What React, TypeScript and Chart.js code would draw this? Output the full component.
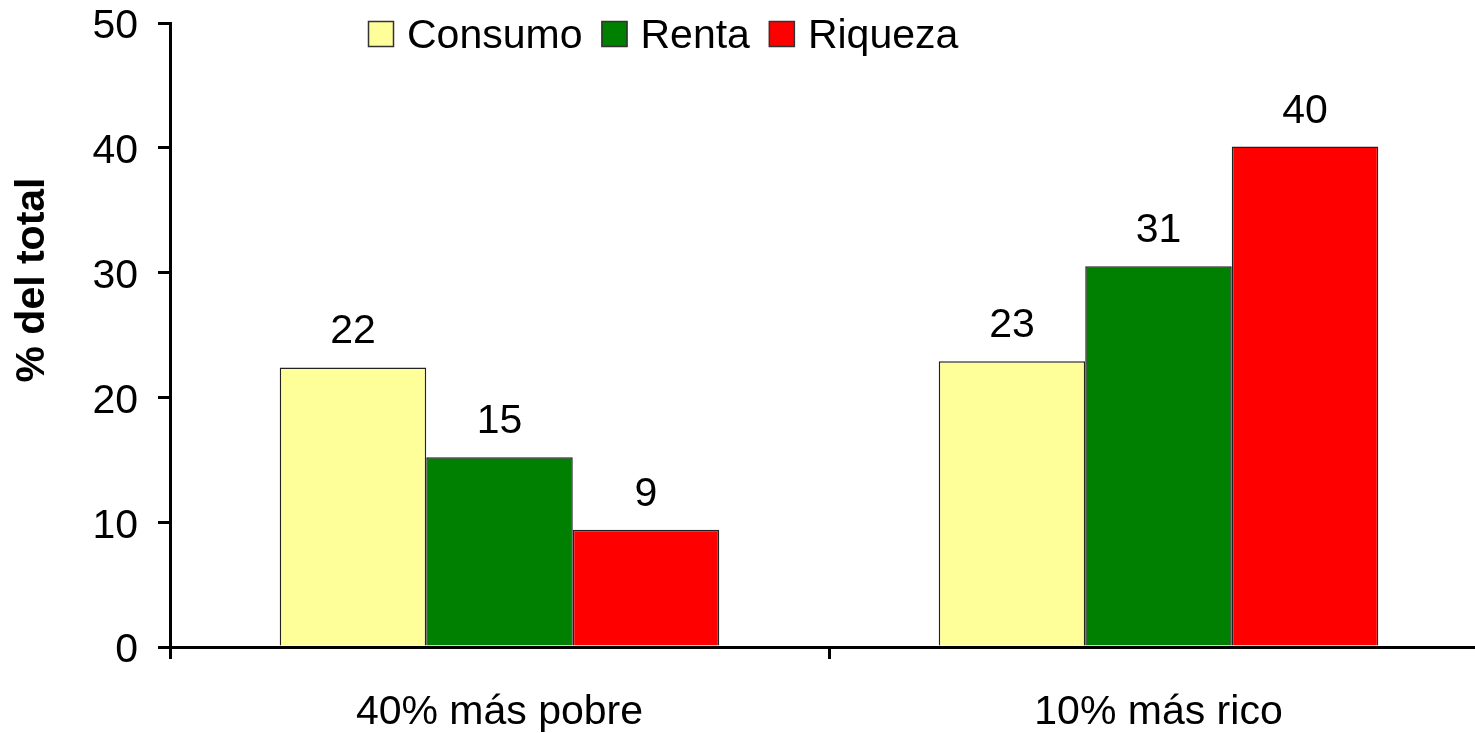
import React, { useEffect, useRef } from "react";
import { Chart, registerables } from "chart.js";

Chart.register(...registerables);

const categories = ["40% más pobre", "10% más rico"];
const seriesNames = ["Consumo", "Renta", "Riqueza"];
const consumo = [22.4, 22.9];
const renta = [15.2, 30.5];
const riqueza = [9.4, 40.1];
const seriesColors = ["#FFFF99", "#008000", "#FF0000"];
const yTitle = "% del total";
const yMin = 0;
const yMax = 50;
const yStep = 10;

const FONT = "'Liberation Sans', Arial, sans-serif";

const overlayPlugin = {
  id: "overlay",
  afterDatasetsDraw(chart: any) {
    const ctx = chart.ctx;
    ctx.save();
    ctx.font = `41px ${FONT}`;
    ctx.fillStyle = "#000";
    ctx.textAlign = "center";
    ctx.textBaseline = "alphabetic";
    chart.data.datasets.forEach((ds: any, i: number) => {
      const meta = chart.getDatasetMeta(i);
      meta.data.forEach((bar: any, j: number) => {
        const v = ds.data[j];
        ctx.fillText(String(Math.round(v)), bar.x, bar.y - 24);
      });
    });
    ctx.restore();
  },
  afterDraw(chart: any) {
    const ctx = chart.ctx;
    ctx.save();
    // legend
    ctx.font = `41px ${FONT}`;
    ctx.textBaseline = "alphabetic";
    ctx.textAlign = "left";
    let x = 368;
    chart.data.datasets.forEach((ds: any) => {
      ctx.fillStyle = ds.backgroundColor;
      ctx.fillRect(x, 21, 26, 26);
      ctx.strokeStyle = "#333";
      ctx.lineWidth = 1.5;
      ctx.strokeRect(x + 0.5, 21.5, 25, 25);
      ctx.fillStyle = "#000";
      ctx.fillText(ds.label, x + 39, 48);
      x += 39 + ctx.measureText(ds.label).width + 19;
    });
    // y title
    ctx.font = `bold 41px ${FONT}`;
    ctx.translate(44, 280);
    ctx.rotate(-Math.PI / 2);
    ctx.textAlign = "center";
    ctx.fillText(yTitle, 0, 0);
    ctx.restore();
  },
};

export default function App() {
  const ref = useRef<HTMLCanvasElement | null>(null);
  useEffect(() => {
    if (!ref.current) return;
    const values = [consumo, renta, riqueza];
    const chart = new Chart(ref.current, {
      type: "bar",
      data: {
        labels: categories,
        datasets: seriesNames.map((name, i) => ({
          label: name,
          data: values[i],
          backgroundColor: seriesColors[i],
          borderColor: "#222",
          borderWidth: 1.5,
          categoryPercentage: 0.667,
          barPercentage: 1,
        })),
      },
      options: {
        responsive: false,
        animation: false,
        devicePixelRatio: 1,
        layout: { padding: { top: 23, right: 12, left: 0, bottom: 0 } },
        plugins: {
          legend: { display: false },
          tooltip: { enabled: false },
          title: { display: false },
        },
        scales: {
          x: {
            grid: {
              offset: true,
              drawOnChartArea: false,
              drawTicks: true,
              tickLength: 12,
              color: "#000",
              lineWidth: 3,
            },
            border: { display: true, color: "#000", width: 3 },
            ticks: {
              color: "#000",
              font: { family: FONT, size: 41 },
              padding: 29,
              maxRotation: 0,
            },
            afterFit: (s: any) => {
              s.height = 86;
              s.paddingLeft = 0;
              s.paddingRight = 0;
            },
          },
          y: {
            min: yMin,
            max: yMax,
            ticks: {
              stepSize: yStep,
              color: "#000",
              font: { family: FONT, size: 41 },
              padding: 20,
              labelOffset: 4,
            },
            grid: {
              drawOnChartArea: false,
              drawTicks: true,
              tickLength: 12,
              color: "#000",
              lineWidth: 3,
            },
            border: { display: true, color: "#000", width: 3 },
            afterFit: (s: any) => {
              s.width = 170;
              s.paddingTop = 0;
              s.paddingBottom = 0;
            },
          },
        },
      },
      plugins: [overlayPlugin],
    });
    return () => chart.destroy();
  }, []);
  return (
    <div
      style={{
        position: "fixed",
        left: 0,
        top: 0,
        width: 1475,
        height: 733,
        overflow: "hidden",
        background: "#fff",
      }}
    >
      <canvas
        ref={ref}
        width={1500}
        height={733}
        style={{ display: "block", width: 1500, height: 733 }}
      />
    </div>
  );
}
